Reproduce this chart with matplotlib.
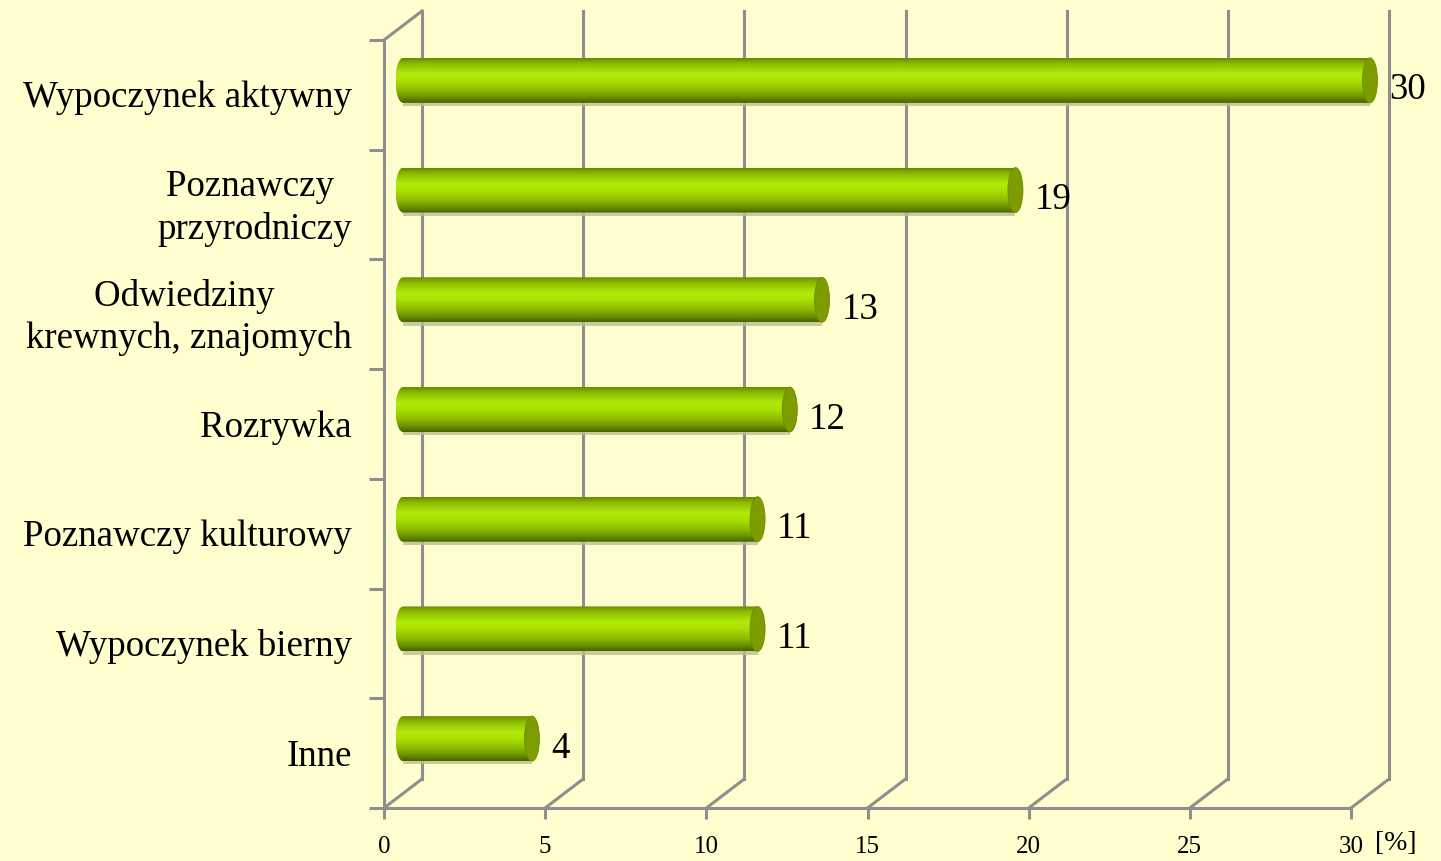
import numpy as np
import matplotlib
matplotlib.use("Agg")
import matplotlib.pyplot as plt
from matplotlib.transforms import ScaledTranslation
from matplotlib.path import Path
from matplotlib.patches import PathPatch, Ellipse, Rectangle
from matplotlib.lines import Line2D

# ---------------- data ----------------
categories = ["Wypoczynek aktywny", "Poznawczy \nprzyrodniczy", "Odwiedziny \nkrewnych, znajomych",
              "Rozrywka", "Poznawczy kulturowy", "Wypoczynek bierny", "Inne"]
values = [30, 19, 13, 12, 11, 11, 4]
xticks = [0, 5, 10, 15, 20, 25, 30]
unit_label = "[%]"

# ---------------- style ----------------
BG = "#FEFECF"
GRID = "#8E8E8E"
DPI = 100
W, H = 1441, 861
plt.rcParams['font.family'] = ['Liberation Serif', 'DejaVu Serif']

fig = plt.figure(figsize=(W / DPI, H / DPI), dpi=DPI, facecolor=BG)
left_px, right_px, top_px, bot_px = 384, 1351, 40, 808
ax = fig.add_axes([left_px / W, 1 - bot_px / H, (right_px - left_px) / W, (bot_px - top_px) / H])
ax.set_facecolor(BG)
ax.patch.set_alpha(0)

n = len(categories)
ax.set_xlim(0, 30)
ax.set_ylim(-0.5, n - 0.5)

# 3D depth offsets
depth = ScaledTranslation(38 / DPI, 29 / DPI, fig.dpi_scale_trans)
half = ScaledTranslation(19 / DPI, 14.5 / DPI, fig.dpi_scale_trans)
T_back = ax.transData + depth
T_mid = ax.transData + half

lw = 2.2
y0, y1 = ax.get_ylim()
# back wall gridlines
for xv in xticks:
    ax.add_line(Line2D([xv, xv], [y0, y1], color=GRID, lw=lw, transform=T_back, clip_on=False, zorder=1))
# floor diagonals
for xv in xticks:
    p_front = ax.transData.transform((xv, y0))
    p_back = T_back.transform((xv, y0))
    fig.add_artist(Line2D([p_front[0] / W, p_back[0] / W], [p_front[1] / H, p_back[1] / H],
                          color=GRID, lw=lw, transform=fig.transFigure, zorder=1))
# left wall top diagonal
p_front = ax.transData.transform((0, y1))
p_back = T_back.transform((0, y1))
fig.add_artist(Line2D([p_front[0] / W, p_back[0] / W], [p_front[1] / H, p_back[1] / H],
                      color=GRID, lw=lw, transform=fig.transFigure, zorder=1))

# spines / ticks
for s in ["top", "right"]:
    ax.spines[s].set_visible(False)
for s in ["left", "bottom"]:
    ax.spines[s].set_color(GRID)
    ax.spines[s].set_linewidth(lw)
ax.set_xticks(xticks)
ax.set_xticklabels([str(t) for t in xticks], fontsize=18)
ax.set_yticks(np.arange(-0.5, n, 1.0))
ax.set_yticklabels([])
ax.tick_params(axis='x', length=8, width=lw, color=GRID, pad=12, direction='out')
ax.tick_params(axis='y', length=11, width=lw, color=GRID, direction='out')

# category labels (centered multi-line text, right-aligned block)
ypos = [n - 1 - i for i in range(n)]
for cat, yp in zip(categories, ypos):
    ax.text(-1.0, yp - 0.03, cat, ha='right', va='center', multialignment='center',
            fontsize=26.6, transform=ax.transData, linespacing=1.3)

# gradient for cylinders
stops = [(0.0, "#6A8C00"), (0.12, "#8DBA00"), (0.35, "#B0EA0C"), (0.5, "#A9E200"),
         (0.72, "#8DBB00"), (0.88, "#6A8F00"), (1.0, "#4A6400")]
N = 64
pos = np.linspace(0, 1, N)
cols = np.array([matplotlib.colors.to_rgb(c) for _, c in stops])
sp = np.array([p for p, _ in stops])
grad = np.stack([np.interp(pos, sp, cols[:, k]) for k in range(3)], axis=-1)[:, None, :]

bar_h = 0.41
rx = 7.5 / 32.25  # ellipse half-width in data units
for val, yp in zip(values, ypos):
    yb, yt = yp - bar_h / 2, yp + bar_h / 2
    # shadow
    sh = Rectangle((0, yb - 0.03), val, 0.05, facecolor="#BDBD92", edgecolor='none',
                   transform=T_mid, zorder=2, alpha=0.8, clip_on=False)
    ax.add_patch(sh)
    # body path: left half ellipse + rectangle
    t = np.linspace(np.pi / 2, 3 * np.pi / 2, 40)
    vx = list(rx * np.cos(t)) + [val, val]
    vy = list(yp + bar_h / 2 * np.sin(t)) + [yb, yt]
    verts = list(zip(vx, vy)) + [(vx[0], vy[0])]
    codes = [Path.MOVETO] + [Path.LINETO] * (len(verts) - 2) + [Path.CLOSEPOLY]
    clip = PathPatch(Path(verts, codes), facecolor='none', edgecolor='none', transform=T_mid,
                     clip_on=False)
    ax.add_patch(clip)
    im = ax.imshow(grad, extent=(-rx, val, yb, yt), aspect='auto', origin='upper',
                   transform=T_mid, zorder=3, interpolation='bilinear')
    im.set_clip_box(fig.bbox)
    im.set_clip_path(clip)
    # right cap
    cap = Ellipse((val, yp), 2 * rx, bar_h, facecolor="#7C9C00", edgecolor="#6E8C00", lw=0.6,
                  transform=T_mid, zorder=4, clip_on=False)
    ax.add_patch(cap)
    # value label
    ax.text(val + 0.6, yp - 0.09, str(val), ha='left', va='center', fontsize=26.6,
            transform=T_mid, zorder=5)

ax.set_xlim(0, 30)
ax.set_ylim(-0.5, n - 0.5)

fig.text(1375 / W, 1 - 843 / H, unit_label, ha='left', va='center', fontsize=20)

fig.savefig("out.png", dpi=DPI, facecolor=BG)
